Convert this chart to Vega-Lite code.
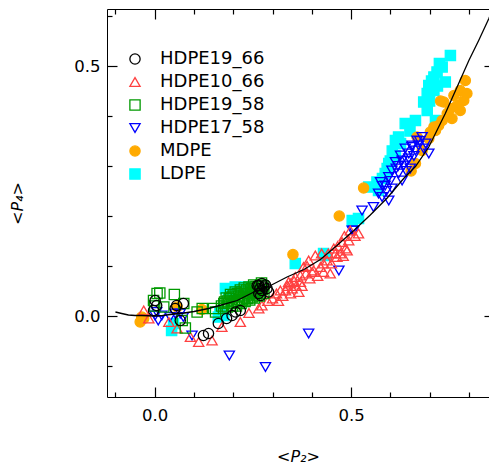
{
  "$schema": "https://vega.github.io/schema/vega-lite/v6.json",
  "width": 382,
  "height": 388,
  "autosize": {"type": "none"},
  "padding": {"left": 107, "top": 9, "right": 0, "bottom": 70},
  "config": {"view": {"stroke": null}, "font": "DejaVu Sans", "axis": {"domainColor": "black", "tickColor": "black", "tickWidth": 1.2, "domainWidth": 1, "grid": false, "labelColor": "black", "titleColor": "black"}},
  "datasets": {
    "points": [
      {"s":"LDPE","x":0.753,"y":0.521},{"s":"LDPE","x":0.732,"y":0.498},{"s":"LDPE","x":0.725,"y":0.505},{"s":"LDPE","x":0.719,"y":0.488},{"s":"LDPE","x":0.711,"y":0.478},{"s":"LDPE","x":0.705,"y":0.470},{"s":"LDPE","x":0.740,"y":0.468},{"s":"LDPE","x":0.720,"y":0.460},{"s":"LDPE","x":0.698,"y":0.461},{"s":"LDPE","x":0.711,"y":0.451},{"s":"LDPE","x":0.694,"y":0.445},{"s":"LDPE","x":0.700,"y":0.430},{"s":"LDPE","x":0.685,"y":0.428},{"s":"LDPE","x":0.694,"y":0.411},{"s":"LDPE","x":0.664,"y":0.391},{"s":"LDPE","x":0.650,"y":0.370},{"s":"LDPE","x":0.638,"y":0.385},{"s":"LDPE","x":0.715,"y":0.391},{"s":"LDPE","x":0.621,"y":0.358},{"s":"LDPE","x":0.613,"y":0.351},{"s":"LDPE","x":0.626,"y":0.345},{"s":"LDPE","x":0.605,"y":0.330},{"s":"LDPE","x":0.613,"y":0.321},{"s":"LDPE","x":0.600,"y":0.310},{"s":"LDPE","x":0.596,"y":0.305},{"s":"LDPE","x":0.592,"y":0.295},{"s":"LDPE","x":0.587,"y":0.285},{"s":"LDPE","x":0.580,"y":0.275},{"s":"LDPE","x":0.566,"y":0.268},{"s":"LDPE","x":0.545,"y":0.258},{"s":"LDPE","x":0.570,"y":0.251},{"s":"LDPE","x":0.519,"y":0.195},{"s":"LDPE","x":0.503,"y":0.191},{"s":"LDPE","x":0.430,"y":0.125},{"s":"LDPE","x":0.435,"y":0.121},{"s":"LDPE","x":0.358,"y":0.105},{"s":"LDPE","x":0.043,"y":-0.029},{"s":"LDPE","x":0.048,"y":-0.015},{"s":"LDPE","x":0.162,"y":-0.002},{"s":"LDPE","x":0.166,"y":0.008},{"s":"LDPE","x":0.176,"y":0.001},{"s":"LDPE","x":0.188,"y":0.051},{"s":"LDPE","x":0.180,"y":0.055},{"s":"LDPE","x":0.205,"y":0.058},{"s":"LDPE","x":0.231,"y":0.058},
      {"s":"MDPE","x":0.791,"y":0.471},{"s":"MDPE","x":0.778,"y":0.451},{"s":"MDPE","x":0.762,"y":0.441},{"s":"MDPE","x":0.787,"y":0.431},{"s":"MDPE","x":0.770,"y":0.421},{"s":"MDPE","x":0.778,"y":0.411},{"s":"MDPE","x":0.736,"y":0.428},{"s":"MDPE","x":0.753,"y":0.415},{"s":"MDPE","x":0.745,"y":0.405},{"s":"MDPE","x":0.757,"y":0.395},{"s":"MDPE","x":0.732,"y":0.391},{"s":"MDPE","x":0.723,"y":0.381},{"s":"MDPE","x":0.715,"y":0.371},{"s":"MDPE","x":0.702,"y":0.368},{"s":"MDPE","x":0.698,"y":0.355},{"s":"MDPE","x":0.681,"y":0.331},{"s":"MDPE","x":0.664,"y":0.305},{"s":"MDPE","x":0.795,"y":0.445},{"s":"MDPE","x":0.728,"y":0.430},{"s":"MDPE","x":0.711,"y":0.378},{"s":"MDPE","x":0.668,"y":0.358},{"s":"MDPE","x":0.653,"y":0.290},{"s":"MDPE","x":0.532,"y":0.256},{"s":"MDPE","x":0.470,"y":0.200},{"s":"MDPE","x":0.352,"y":0.123},{"s":"MDPE","x":-0.028,"y":-0.005},{"s":"MDPE","x":-0.033,"y":-0.002},{"s":"MDPE","x":-0.037,"y":-0.012},{"s":"MDPE","x":0.120,"y":0.013},{"s":"MDPE","x":0.057,"y":0.018},
      {"s":"HDPE17_58","x":0.190,"y":-0.079},{"s":"HDPE17_58","x":0.282,"y":-0.102},{"s":"HDPE17_58","x":0.392,"y":-0.035},{"s":"HDPE17_58","x":0.469,"y":0.091},{"s":"HDPE17_58","x":0.095,"y":-0.039},{"s":"HDPE17_58","x":0.528,"y":0.211},{"s":"HDPE17_58","x":0.503,"y":0.171},{"s":"HDPE17_58","x":0.005,"y":0.008},{"s":"HDPE17_58","x":0.018,"y":0.001},{"s":"HDPE17_58","x":0.009,"y":-0.009},{"s":"HDPE17_58","x":0.039,"y":-0.002},{"s":"HDPE17_58","x":0.052,"y":0.005},{"s":"HDPE17_58","x":0.065,"y":0.005},{"s":"HDPE17_58","x":0.073,"y":-0.002},{"s":"HDPE17_58","x":0.001,"y":0.001},{"s":"HDPE17_58","x":0.655,"y":0.341},{"s":"HDPE17_58","x":0.638,"y":0.335},{"s":"HDPE17_58","x":0.664,"y":0.331},{"s":"HDPE17_58","x":0.626,"y":0.321},{"s":"HDPE17_58","x":0.647,"y":0.315},{"s":"HDPE17_58","x":0.613,"y":0.308},{"s":"HDPE17_58","x":0.634,"y":0.301},{"s":"HDPE17_58","x":0.651,"y":0.295},{"s":"HDPE17_58","x":0.604,"y":0.291},{"s":"HDPE17_58","x":0.621,"y":0.285},{"s":"HDPE17_58","x":0.596,"y":0.278},{"s":"HDPE17_58","x":0.630,"y":0.271},{"s":"HDPE17_58","x":0.575,"y":0.268},{"s":"HDPE17_58","x":0.587,"y":0.261},{"s":"HDPE17_58","x":0.604,"y":0.255},{"s":"HDPE17_58","x":0.570,"y":0.245},{"s":"HDPE17_58","x":0.579,"y":0.238},{"s":"HDPE17_58","x":0.596,"y":0.231},{"s":"HDPE17_58","x":0.557,"y":0.218},{"s":"HDPE17_58","x":0.507,"y":0.171},{"s":"HDPE17_58","x":0.681,"y":0.358},{"s":"HDPE17_58","x":0.668,"y":0.351},{"s":"HDPE17_58","x":0.672,"y":0.341},{"s":"HDPE17_58","x":0.655,"y":0.338},{"s":"HDPE17_58","x":0.698,"y":0.325},{"s":"HDPE17_58","x":0.647,"y":0.325},{"s":"HDPE17_58","x":0.685,"y":0.335},{"s":"HDPE17_58","x":0.630,"y":0.311},{"s":"HDPE17_58","x":0.690,"y":0.345},{"s":"HDPE17_58","x":0.660,"y":0.320},{"s":"HDPE17_58","x":0.615,"y":0.295},{"s":"HDPE17_58","x":0.640,"y":0.290},{"s":"HDPE17_58","x":0.590,"y":0.250},{"s":"HDPE17_58","x":0.580,"y":0.260},{"s":"HDPE17_58","x":0.620,"y":0.300},{"s":"HDPE17_58","x":0.675,"y":0.350},{"s":"HDPE17_58","x":0.600,"y":0.270},{"s":"HDPE17_58","x":0.643,"y":0.310},
      {"s":"HDPE10_66","x":-0.028,"y":0.011},{"s":"HDPE10_66","x":-0.015,"y":-0.005},{"s":"HDPE10_66","x":0.036,"y":-0.012},{"s":"HDPE10_66","x":0.057,"y":-0.025},{"s":"HDPE10_66","x":0.091,"y":-0.042},{"s":"HDPE10_66","x":0.112,"y":-0.052},{"s":"HDPE10_66","x":0.146,"y":-0.049},{"s":"HDPE10_66","x":0.171,"y":-0.022},{"s":"HDPE10_66","x":0.218,"y":-0.012},{"s":"HDPE10_66","x":0.240,"y":0.006},{"s":"HDPE10_66","x":0.273,"y":0.021},{"s":"HDPE10_66","x":0.288,"y":0.030},{"s":"HDPE10_66","x":0.320,"y":0.051},{"s":"HDPE10_66","x":0.341,"y":0.068},{"s":"HDPE10_66","x":0.346,"y":0.045},{"s":"HDPE10_66","x":0.350,"y":0.055},{"s":"HDPE10_66","x":0.358,"y":0.078},{"s":"HDPE10_66","x":0.333,"y":0.051},{"s":"HDPE10_66","x":0.346,"y":0.065},{"s":"HDPE10_66","x":0.367,"y":0.048},{"s":"HDPE10_66","x":0.371,"y":0.068},{"s":"HDPE10_66","x":0.371,"y":0.081},{"s":"HDPE10_66","x":0.379,"y":0.098},{"s":"HDPE10_66","x":0.392,"y":0.111},{"s":"HDPE10_66","x":0.401,"y":0.088},{"s":"HDPE10_66","x":0.405,"y":0.091},{"s":"HDPE10_66","x":0.409,"y":0.121},{"s":"HDPE10_66","x":0.422,"y":0.098},{"s":"HDPE10_66","x":0.430,"y":0.105},{"s":"HDPE10_66","x":0.430,"y":0.088},{"s":"HDPE10_66","x":0.439,"y":0.111},{"s":"HDPE10_66","x":0.447,"y":0.085},{"s":"HDPE10_66","x":0.456,"y":0.135},{"s":"HDPE10_66","x":0.464,"y":0.118},{"s":"HDPE10_66","x":0.477,"y":0.148},{"s":"HDPE10_66","x":0.490,"y":0.131},{"s":"HDPE10_66","x":0.498,"y":0.171},{"s":"HDPE10_66","x":0.519,"y":0.165},{"s":"HDPE10_66","x":0.473,"y":0.125},{"s":"HDPE10_66","x":0.486,"y":0.135},{"s":"HDPE10_66","x":0.494,"y":0.151},{"s":"HDPE10_66","x":0.450,"y":0.105},{"s":"HDPE10_66","x":0.460,"y":0.125},{"s":"HDPE10_66","x":0.385,"y":0.085},{"s":"HDPE10_66","x":0.360,"y":0.060},{"s":"HDPE10_66","x":0.326,"y":0.040},{"s":"HDPE10_66","x":0.338,"y":0.060},{"s":"HDPE10_66","x":0.300,"y":0.035},{"s":"HDPE10_66","x":0.310,"y":0.045},{"s":"HDPE10_66","x":0.315,"y":0.030},{"s":"HDPE10_66","x":0.355,"y":0.070},{"s":"HDPE10_66","x":0.375,"y":0.060},{"s":"HDPE10_66","x":0.388,"y":0.100},{"s":"HDPE10_66","x":0.395,"y":0.075},{"s":"HDPE10_66","x":0.415,"y":0.080},{"s":"HDPE10_66","x":0.425,"y":0.125},{"s":"HDPE10_66","x":0.442,"y":0.125},{"s":"HDPE10_66","x":0.466,"y":0.140},{"s":"HDPE10_66","x":0.480,"y":0.120},{"s":"HDPE10_66","x":0.483,"y":0.160},{"s":"HDPE10_66","x":0.510,"y":0.160},{"s":"HDPE10_66","x":0.265,"y":0.015},
      {"s":"HDPE19_58","x":-0.003,"y":0.031},{"s":"HDPE19_58","x":0.006,"y":0.045},{"s":"HDPE19_58","x":0.013,"y":0.046},{"s":"HDPE19_58","x":0.050,"y":0.043},{"s":"HDPE19_58","x":0.074,"y":0.025},{"s":"HDPE19_58","x":0.078,"y":-0.024},{"s":"HDPE19_58","x":0.070,"y":-0.009},{"s":"HDPE19_58","x":0.023,"y":0.018},{"s":"HDPE19_58","x":0.000,"y":0.020},{"s":"HDPE19_58","x":0.108,"y":0.008},{"s":"HDPE19_58","x":0.121,"y":0.015},{"s":"HDPE19_58","x":0.150,"y":0.015},{"s":"HDPE19_58","x":0.155,"y":0.008},{"s":"HDPE19_58","x":0.176,"y":0.025},{"s":"HDPE19_58","x":0.185,"y":0.030},{"s":"HDPE19_58","x":0.197,"y":0.038},{"s":"HDPE19_58","x":0.170,"y":0.020},{"s":"HDPE19_58","x":0.178,"y":0.028},{"s":"HDPE19_58","x":0.185,"y":0.018},{"s":"HDPE19_58","x":0.190,"y":0.035},{"s":"HDPE19_58","x":0.195,"y":0.025},{"s":"HDPE19_58","x":0.200,"y":0.042},{"s":"HDPE19_58","x":0.203,"y":0.030},{"s":"HDPE19_58","x":0.208,"y":0.020},{"s":"HDPE19_58","x":0.210,"y":0.045},{"s":"HDPE19_58","x":0.215,"y":0.033},{"s":"HDPE19_58","x":0.220,"y":0.025},{"s":"HDPE19_58","x":0.222,"y":0.048},{"s":"HDPE19_58","x":0.226,"y":0.038},{"s":"HDPE19_58","x":0.230,"y":0.029},{"s":"HDPE19_58","x":0.234,"y":0.052},{"s":"HDPE19_58","x":0.238,"y":0.042},{"s":"HDPE19_58","x":0.242,"y":0.032},{"s":"HDPE19_58","x":0.246,"y":0.055},{"s":"HDPE19_58","x":0.250,"y":0.046},{"s":"HDPE19_58","x":0.254,"y":0.036},{"s":"HDPE19_58","x":0.258,"y":0.059},{"s":"HDPE19_58","x":0.262,"y":0.050},{"s":"HDPE19_58","x":0.266,"y":0.040},{"s":"HDPE19_58","x":0.270,"y":0.062},{"s":"HDPE19_58","x":0.274,"y":0.053},{"s":"HDPE19_58","x":0.278,"y":0.045},{"s":"HDPE19_58","x":0.230,"y":0.045},{"s":"HDPE19_58","x":0.250,"y":0.055},{"s":"HDPE19_58","x":0.214,"y":0.040},{"s":"HDPE19_58","x":0.260,"y":0.042},{"s":"HDPE19_58","x":0.175,"y":0.015},{"s":"HDPE19_58","x":0.182,"y":0.036},{"s":"HDPE19_58","x":0.188,"y":0.026},{"s":"HDPE19_58","x":0.193,"y":0.043},{"s":"HDPE19_58","x":0.198,"y":0.020},{"s":"HDPE19_58","x":0.205,"y":0.048},{"s":"HDPE19_58","x":0.212,"y":0.028},{"s":"HDPE19_58","x":0.218,"y":0.052},{"s":"HDPE19_58","x":0.224,"y":0.032},{"s":"HDPE19_58","x":0.228,"y":0.056},{"s":"HDPE19_58","x":0.236,"y":0.035},{"s":"HDPE19_58","x":0.240,"y":0.058},{"s":"HDPE19_58","x":0.244,"y":0.045},{"s":"HDPE19_58","x":0.248,"y":0.038},{"s":"HDPE19_58","x":0.252,"y":0.062},{"s":"HDPE19_58","x":0.256,"y":0.048},{"s":"HDPE19_58","x":0.264,"y":0.058},{"s":"HDPE19_58","x":0.268,"y":0.046},{"s":"HDPE19_58","x":0.272,"y":0.066},{"s":"HDPE19_58","x":0.276,"y":0.060},
      {"s":"HDPE19_66","x":0.001,"y":0.031},{"s":"HDPE19_66","x":0.005,"y":0.021},{"s":"HDPE19_66","x":0.056,"y":0.021},{"s":"HDPE19_66","x":0.073,"y":0.025},{"s":"HDPE19_66","x":0.052,"y":0.015},{"s":"HDPE19_66","x":0.065,"y":-0.009},{"s":"HDPE19_66","x":-0.003,"y":0.011},{"s":"HDPE19_66","x":0.124,"y":-0.039},{"s":"HDPE19_66","x":0.137,"y":-0.035},{"s":"HDPE19_66","x":0.162,"y":-0.015},{"s":"HDPE19_66","x":0.183,"y":-0.005},{"s":"HDPE19_66","x":0.197,"y":0.001},{"s":"HDPE19_66","x":0.206,"y":0.008},{"s":"HDPE19_66","x":0.218,"y":0.011},{"s":"HDPE19_66","x":0.265,"y":0.061},{"s":"HDPE19_66","x":0.273,"y":0.065},{"s":"HDPE19_66","x":0.286,"y":0.055},{"s":"HDPE19_66","x":0.290,"y":0.048},{"s":"HDPE19_66","x":0.270,"y":0.041},{"s":"HDPE19_66","x":0.278,"y":0.058},{"s":"HDPE19_66","x":0.273,"y":0.051},{"s":"HDPE19_66","x":0.265,"y":0.045},{"s":"HDPE19_66","x":0.261,"y":0.061},{"s":"HDPE19_66","x":0.282,"y":0.062},{"s":"HDPE19_66","x":0.268,"y":0.055}
    ],
    "curve": [
      {"x":-0.100,"y":0.008},{"x":-0.084,"y":0.005},{"x":-0.067,"y":0.002},{"x":-0.050,"y":0.001},{"x":-0.033,"y":0.001},{"x":0.000,"y":0.000},{"x":0.020,"y":0.001},{"x":0.050,"y":0.004},{"x":0.075,"y":0.006},{"x":0.100,"y":0.009},{"x":0.137,"y":0.015},{"x":0.170,"y":0.022},{"x":0.210,"y":0.031},{"x":0.250,"y":0.047},{"x":0.295,"y":0.061},{"x":0.337,"y":0.078},{"x":0.380,"y":0.093},{"x":0.422,"y":0.113},{"x":0.464,"y":0.141},{"x":0.507,"y":0.171},{"x":0.549,"y":0.202},{"x":0.592,"y":0.236},{"x":0.634,"y":0.275},{"x":0.664,"y":0.299},{"x":0.698,"y":0.338},{"x":0.740,"y":0.405},{"x":0.774,"y":0.465},{"x":0.800,"y":0.511},{"x":0.825,"y":0.551},{"x":0.851,"y":0.595},{"x":0.866,"y":0.625}
    ]
  },
  "layer": [
    {
      "data": {"name": "points"},
      "mark": {"type": "point", "size": 105, "strokeWidth": 1.3, "opacity": 1},
      "encoding": {
        "x": {"field": "x", "type": "quantitative",
          "scale": {"domain": [-0.1215, 0.8513], "zero": false, "nice": false},
          "axis": {"orient": "bottom", "values": [0, 0.5], "format": ".1f",
            "labelFont": "DejaVu Sans", "labelFontSize": 16.5, "labelPadding": 20, "labelOverlap": false, "labelFlush": false,
            "tickSize": -10,
            "title": "<P₂>", "titleFont": "DejaVu Sans", "titleFontSize": 16, "titleFontStyle": "italic", "titleFontWeight": "normal", "titlePadding": 25}},
        "y": {"field": "y", "type": "quantitative",
          "scale": {"domain": [-0.162, 0.614], "zero": false, "nice": false},
          "axis": {"orient": "left", "values": [0, 0.5], "format": ".1f",
            "labelFont": "DejaVu Sans", "labelFontSize": 16.5, "labelPadding": 17, "labelOverlap": false, "labelFlush": false,
            "tickSize": -10,
            "title": "<P₄>", "titleFont": "DejaVu Sans", "titleFontSize": 16, "titleFontStyle": "italic", "titleFontWeight": "normal", "titlePadding": 48}},
        "shape": {"field": "s", "type": "nominal",
          "scale": {"domain": ["HDPE19_66","HDPE10_66","HDPE19_58","HDPE17_58","MDPE","LDPE"], "range": ["circle","triangle-up","square","triangle-down","circle","square"]},
          "legend": {"orient": "none", "legendX": 19, "legendY": 41, "title": null, "padding": 0, "labelFont": "DejaVu Sans", "labelFontSize": 18, "labelColor": "black", "labelOffset": 16, "rowPadding": 5, "symbolSize": 105, "symbolStrokeWidth": 1.3, "symbolOpacity": 1}},
        "stroke": {"field": "s", "type": "nominal",
          "scale": {"domain": ["HDPE19_66","HDPE10_66","HDPE19_58","HDPE17_58","MDPE","LDPE"], "range": ["#000000","#FF4040","#009900","#0000FF","#FFAA00","#00FFFF"]},
          "legend": {"orient": "none", "legendX": 19, "legendY": 41, "title": null, "padding": 0, "labelFont": "DejaVu Sans", "labelFontSize": 18, "labelColor": "black", "labelOffset": 16, "rowPadding": 5, "symbolSize": 105, "symbolStrokeWidth": 1.3, "symbolOpacity": 1}},
        "fill": {"field": "s", "type": "nominal",
          "scale": {"domain": ["HDPE19_66","HDPE10_66","HDPE19_58","HDPE17_58","MDPE","LDPE"], "range": ["transparent","transparent","transparent","transparent","#FFAA00","#00FFFF"]},
          "legend": {"orient": "none", "legendX": 19, "legendY": 41, "title": null, "padding": 0, "labelFont": "DejaVu Sans", "labelFontSize": 18, "labelColor": "black", "labelOffset": 16, "rowPadding": 5, "symbolSize": 105, "symbolStrokeWidth": 1.3, "symbolOpacity": 1}}
      }
    },
    {
      "data": {"name": "curve"},
      "mark": {"type": "line", "color": "black", "strokeWidth": 1.3, "clip": true},
      "encoding": {
        "x": {"field": "x", "type": "quantitative",
          "axis": {"orient": "bottom", "values": [-0.1,0.1,0.2,0.3,0.4,0.6,0.7,0.8], "labels": false, "title": null, "domain": false, "tickSize": -5}},
        "y": {"field": "y", "type": "quantitative",
          "axis": {"orient": "left", "values": [-0.1,0.1,0.2,0.3,0.4,0.6], "labels": false, "title": null, "domain": false, "tickSize": -5}}
      }
    },
    {
      "data": {"name": "curve"},
      "mark": {"type": "line", "color": "black", "strokeOpacity": 0, "clip": true},
      "encoding": {
        "x": {"field": "x", "type": "quantitative",
          "axis": {"orient": "top", "values": [0, 0.5], "labels": false, "title": null, "tickSize": -10}},
        "y": {"field": "y", "type": "quantitative",
          "axis": {"orient": "right", "offset": 5, "values": [0, 0.5], "labels": false, "title": null, "domain": false, "tickSize": -10}}
      }
    },
    {
      "data": {"name": "curve"},
      "mark": {"type": "line", "color": "black", "strokeOpacity": 0, "clip": true},
      "encoding": {
        "x": {"field": "x", "type": "quantitative",
          "axis": {"orient": "top", "values": [-0.1,0.1,0.2,0.3,0.4,0.6,0.7,0.8], "labels": false, "title": null, "domain": false, "tickSize": -5}},
        "y": {"field": "y", "type": "quantitative",
          "axis": {"orient": "right", "offset": 5, "values": [-0.1,0.1,0.2,0.3,0.4,0.6], "labels": false, "title": null, "domain": false, "tickSize": -5}}
      }
    }
  ],
  "resolve": {"axis": {"x": "independent", "y": "independent"}}
}
